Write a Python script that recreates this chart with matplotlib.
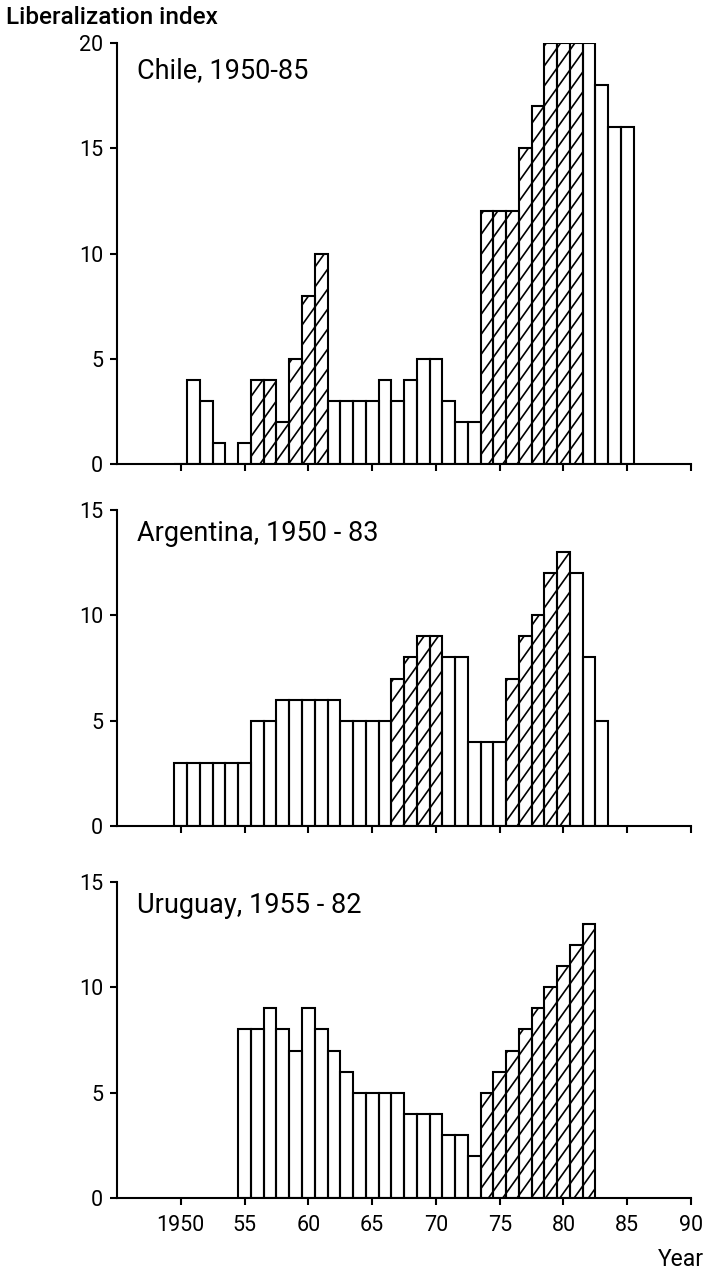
import numpy as np
import matplotlib
matplotlib.use("Agg")
import matplotlib.pyplot as plt

# данные
chile_years = list(range(1950, 1986))
chile_vals = [0, 4, 3, 1, 0, 1, 4, 4, 2, 5, 8, 10,
              3, 3, 3, 3, 4, 3, 4, 5, 5, 3, 2, 2,
              12, 12, 12, 15, 17, 20, 20, 20, 20, 18, 16, 16]
chile_hatch = list(range(1956, 1962)) + list(range(1974, 1982))

arg_years = list(range(1950, 1984))
arg_vals = [3, 3, 3, 3, 3, 3, 5, 5, 6, 6, 6, 6,
            6, 5, 5, 5, 5, 7, 8, 9, 9, 8, 8, 4,
            4, 4, 7, 9, 10, 12, 13, 12, 8, 5]
arg_hatch = list(range(1967, 1971)) + list(range(1976, 1981))

uru_years = list(range(1955, 1983))
uru_vals = [8, 8, 9, 8, 7, 9, 8, 7, 6, 5, 5, 5,
            5, 4, 4, 4, 3, 3, 2, 5, 6, 7, 8, 9,
            10, 11, 12, 13]
uru_hatch = list(range(1974, 1983))

titles = ["Chile, 1950-85", "Argentina, 1950 - 83", "Uruguay, 1955 - 82"]
x_ticks = list(range(1950, 1995, 5))
x_labels = ["1950", "55", "60", "65", "70", "75", "80", "85", "90"]

plt.rcParams['font.family'] = ['Roboto', 'DejaVu Sans']

fig = plt.figure(figsize=(7.05, 12.7), dpi=100)

# положение осей (доли фигуры)
left, width = 0.166, 0.8142
boxes = [(0.6346, 0.3315), (0.3496, 0.2488), (0.0567, 0.2488)]
panels = [(chile_years, chile_vals, chile_hatch, 20),
          (arg_years, arg_vals, arg_hatch, 15),
          (uru_years, uru_vals, uru_hatch, 15)]
title_y = [18.7, 13.9, 13.9]

SLOPE_PX = 1.4   # наклон штриховки (в пикселях)
STEP_PX = 20.0   # шаг штриховки по вертикали (в пикселях)
LW = 1.5

for i, ((yrs, vals, hat, ymax), (b, h)) in enumerate(zip(panels, boxes)):
    ax = fig.add_axes([left, b, width, h])
    ax.set_xlim(1945, 1990)
    ax.set_ylim(0, ymax)
    yrs = np.array(yrs)
    vals = np.array(vals)
    mask = np.isin(yrs, hat)

    bars = ax.bar(yrs, vals, width=1.0, color='white', edgecolor='none', zorder=1)

    # штриховка: наклонные линии, обрезанные по столбцу
    p0 = ax.transData.transform((0, 0))
    px_year = ax.transData.transform((1, 0))[0] - p0[0]
    px_unit = ax.transData.transform((0, 1))[1] - p0[1]
    slope = SLOPE_PX * px_year / px_unit
    step = STEP_PX / px_unit
    for rect, yr, v, m in zip(bars, yrs, vals, mask):
        if not m:
            continue
        x0, x1 = yr - 0.5, yr + 0.5
        n_lo = int(np.floor((0 - slope * (x1 - 1945)) / step)) - 1
        n_hi = int(np.ceil((v - slope * (x0 - 1945)) / step)) + 1
        for n in range(n_lo, n_hi + 1):
            xs = np.array([x0, x1])
            ys = slope * (xs - 1945) + n * step
            ln, = ax.plot(xs, ys, color='black', lw=1.2, zorder=2)
            ln.set_clip_path(rect)

    ax.bar(yrs, vals, width=1.0, fill=False, edgecolor='black', linewidth=LW, zorder=3)

    ax.set_yticks(range(0, ymax + 1, 5))
    ax.set_xticks(x_ticks)
    if i == 2:
        ax.set_xticklabels(x_labels)
    else:
        ax.set_xticklabels([])
    for s in ['top', 'right']:
        ax.spines[s].set_visible(False)
    for s in ['left', 'bottom']:
        ax.spines[s].set_linewidth(LW)
        ax.spines[s].set_zorder(4)
    ax.tick_params(length=5, width=LW, labelsize=15.5, pad=5)
    ax.tick_params(axis='x', pad=7)
    ax.text(0.035, title_y[i], titles[i], transform=ax.get_yaxis_transform(),
            fontsize=19.5, va='center', ha='left')

fig.text(0.008, 1 - 18 / 1270, "Liberalization index", fontsize=17.5,
         fontweight=500, va='center', ha='left')
fig.text(0.998, 1 - 1260 / 1270, "Year", fontsize=16.5, va='center', ha='right')

fig.savefig("out.png", dpi=100, facecolor='white')
